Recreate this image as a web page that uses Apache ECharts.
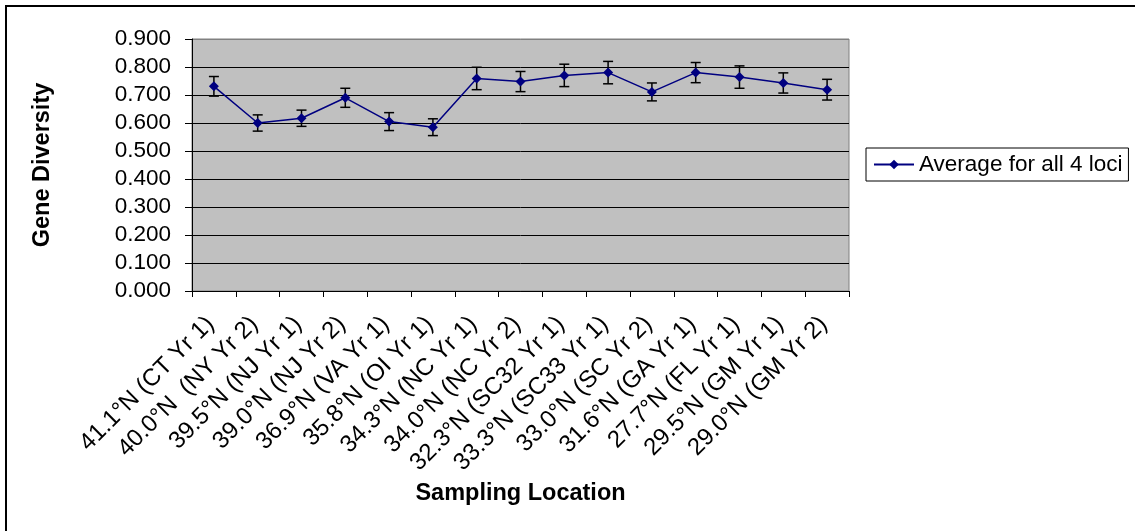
<!DOCTYPE html>
<html>
<head>
<meta charset="utf-8">
<script src="https://cdn.jsdelivr.net/npm/echarts@6/dist/echarts.min.js"></script>
<style>
  html, body { margin: 0; padding: 0; background: #fff; }
  #chart { width: 1135px; height: 531px; }
</style>
</head>
<body>
<div id="chart"></div>
<script>
const categories = [
  "41.1°N (CT Yr 1)", "40.0°N  (NY Yr 2)", "39.5°N (NJ Yr 1)", "39.0°N (NJ Yr 2)",
  "36.9°N (VA Yr 1)", "35.8°N (OI Yr 1)", "34.3°N (NC Yr 1)", "34.0°N (NC Yr 2)",
  "32.3°N (SC32 Yr 1)", "33.3°N (SC33 Yr 1)", "33.0°N (SC Yr 2)", "31.6°N (GA Yr 1)",
  "27.7°N (FL Yr 1)", "29.5°N (GM Yr 1)", "29.0°N (GM Yr 2)"
];
const averageValues = [0.731, 0.600, 0.617, 0.690, 0.605, 0.585, 0.759, 0.748, 0.770, 0.780, 0.711, 0.780, 0.764, 0.743, 0.719];
const errorValues = [0.035, 0.029, 0.029, 0.034, 0.032, 0.030, 0.040, 0.036, 0.040, 0.040, 0.032, 0.036, 0.040, 0.036, 0.037];
const seriesName = "Average for all 4 loci";
const yTicks = { min: 0, max: 0.9, interval: 0.1 };

const FONT = '"Liberation Sans", Arial, sans-serif';
const chart = echarts.init(document.getElementById('chart'), null, { renderer: 'canvas' });

const errData = categories.map((c, i) => [i, averageValues[i], errorValues[i]]);

const option = {
  animation: false,
  backgroundColor: '#ffffff',
  textStyle: { fontFamily: FONT },
  graphic: [{
    type: 'rect',
    shape: { x: 6, y: 6, width: 1400, height: 1000 },
    style: { fill: 'none', stroke: '#000', lineWidth: 2 },
    z: 0
  }],
  grid: {
    left: 192, top: 39, width: 657, height: 252,
    show: true, backgroundColor: '#C0C0C0', borderColor: '#808080', borderWidth: 1
  },
  legend: {
    show: true,
    left: 866, top: 148,
    orient: 'vertical',
    padding: [5, 6, 5, 7],
    borderColor: '#000', borderWidth: 1,
    itemWidth: 40, itemHeight: 12, itemGap: 0,
    textStyle: { fontFamily: FONT, fontSize: 22.5, color: '#000' },
    data: [{ name: seriesName }]
  },
  xAxis: {
    type: 'category',
    data: categories,
    boundaryGap: true,
    name: 'Sampling Location',
    nameLocation: 'middle',
    nameGap: 191,
    nameTextStyle: { fontFamily: FONT, fontSize: 23.5, fontWeight: 'bold', color: '#000' },
    axisLine: { show: true, lineStyle: { color: '#000', width: 1 } },
    axisTick: { show: true, inside: false, length: 6, lineStyle: { color: '#000' } },
    axisLabel: {
      interval: 0, rotate: 45, margin: 26,
      padding: [0, 5, 0, 0],
      fontFamily: FONT, fontSize: 24, color: '#000'
    },
    splitLine: { show: false }
  },
  yAxis: {
    type: 'value',
    min: yTicks.min, max: yTicks.max, interval: yTicks.interval,
    name: 'Gene Diversity',
    nameLocation: 'middle',
    nameGap: 137,
    nameRotate: 90,
    nameTextStyle: { fontFamily: FONT, fontSize: 23.5, fontWeight: 'bold', color: '#000' },
    axisLine: { show: true, lineStyle: { color: '#000', width: 1 } },
    axisTick: { show: true, inside: false, length: 7, lineStyle: { color: '#000' } },
    axisLabel: {
      margin: 21, fontFamily: FONT, fontSize: 22.5, color: '#000',
      formatter: v => v.toFixed(3)
    },
    splitLine: {
      show: true,
      lineStyle: { color: ['#000','#000','#000','#000','#000','#000','#000','#000','#000','#808080'], width: 1 }
    }
  },
  series: [
    {
      type: 'custom',
      name: 'err',
      data: errData,
      z: 2,
      silent: true,
      renderItem: function (params, api) {
        const x = api.value(0), y = api.value(1), e = api.value(2);
        const hi = api.coord([x, y + e]);
        const lo = api.coord([x, y - e]);
        const half = 5;
        const st = { stroke: '#000', lineWidth: 1.5, fill: 'none' };
        return {
          type: 'group',
          children: [
            { type: 'line', shape: { x1: hi[0], y1: hi[1], x2: lo[0], y2: lo[1] }, style: st },
            { type: 'line', shape: { x1: hi[0] - half, y1: hi[1], x2: hi[0] + half, y2: hi[1] }, style: st },
            { type: 'line', shape: { x1: lo[0] - half, y1: lo[1], x2: lo[0] + half, y2: lo[1] }, style: st }
          ]
        };
      }
    },
    {
      type: 'line',
      name: seriesName,
      data: averageValues,
      z: 3,
      symbol: 'diamond',
      symbolSize: 10,
      showAllSymbol: true,
      lineStyle: { color: '#000080', width: 1.5 },
      itemStyle: { color: '#000080', borderWidth: 0 }
    }
  ]
};
chart.setOption(option);
</script>
</body>
</html>
